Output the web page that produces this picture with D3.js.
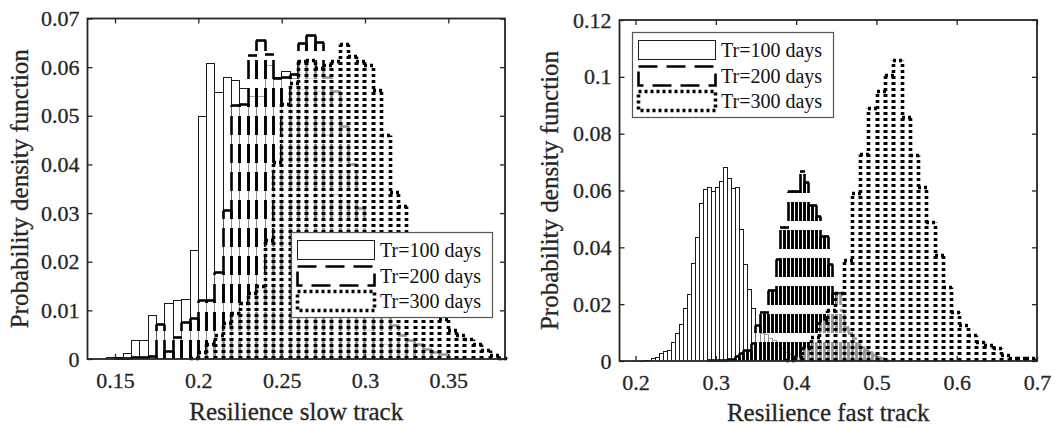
<!DOCTYPE html>
<html><head><meta charset="utf-8">
<script src="https://cdn.jsdelivr.net/npm/d3@7"></script>
<style>
body{margin:0;background:#fff}
svg{display:block}
</style>
</head><body>
<svg id="c" width="1059" height="428"></svg>
<script>
// ---------------- data ----------------
const legendLabels = ["Tr=100 days", "Tr=200 days", "Tr=300 days"];

// Left panel: resilience slow track (bin width 0.005)
const slowBinWidth = 0.005;
const slow100Start = 0.145;
const slow100 = [0.0005,0.0005,0.0013,0.0039,0.0039,0.0090,0.0071,0.0116,0.0121,0.0123,0.0225,0.0500,0.0609,0.0548,0.0580,0.0573,0.0558,0.0541,0.0541,0.0604,0.0580,0.0592,0.0577,0.0555,0.0577,0.0550,0.0460,0.0340,0.0220,0.0140,0.0090,0.0060,0.0040,0.0030,0.0020,0.0010];
const slow200Start = 0.15;
const slow200 = [0.0003,0.0003,0.0004,0.0005,0.0007,0.0071,0.0016,0.0045,0.0077,0.0085,0.0122,0.0122,0.0178,0.0307,0.0523,0.0525,0.0625,0.0655,0.0626,0.0578,0.0580,0.0586,0.0650,0.0666,0.0652,0.0580,0.0550,0.0480,0.0400,0.0310,0.0220,0.0150,0.0100,0.0070,0.0050,0.0040,0.0030,0.0020,0.0015,0.0010];
const slow300Start = 0.195;
const slow300 = [0.0003,0.0015,0.0030,0.0050,0.0075,0.0095,0.0115,0.0135,0.0150,0.0245,0.0405,0.0525,0.0568,0.0612,0.0615,0.0598,0.0605,0.0612,0.0648,0.0622,0.0612,0.0605,0.0553,0.0460,0.0344,0.0315,0.0240,0.0180,0.0130,0.0095,0.0082,0.0060,0.0050,0.0042,0.0030,0.0018,0.0008,0.0003];

// Right panel: resilience fast track
const fastBinWidth = 0.005;
const fast100Start = 0.205;
const fast100 = [0.0001,0.0002,0.0003,0.0009,0.0013,0.0029,0.0035,0.0039,0.0068,0.0100,0.0130,0.0185,0.0235,0.0345,0.0435,0.0555,0.0605,0.0612,0.0598,0.0612,0.0632,0.0682,0.0645,0.0610,0.0612,0.0465,0.0340,0.0255,0.0185,0.0125,0.0098,0.0095,0.0082,0.0075,0.0058,0.0045,0.0032,0.0025,0.0018,0.0012,0.0008,0.0005,0.0003];
const fast200Start = 0.29;
const fast200 = [0.0002,0.0002,0.0003,0.0003,0.0004,0.0006,0.0008,0.0018,0.0027,0.0039,0.0040,0.0062,0.0125,0.0174,0.0174,0.0250,0.0250,0.0360,0.0470,0.0470,0.0600,0.0600,0.0600,0.0670,0.0630,0.0550,0.0550,0.0510,0.0440,0.0440,0.0340,0.0240,0.0240,0.0180,0.0120,0.0100,0.0080,0.0060,0.0050,0.0040,0.0030,0.0020,0.0015,0.0010,0.0005];
const fast300Start = 0.3877;
const fast300BinWidth = 0.0103;
const fast300 = [0.0005,0.0015,0.0045,0.0086,0.0144,0.0180,0.0240,0.0355,0.0590,0.0730,0.0890,0.0950,0.1006,0.1060,0.0860,0.0725,0.0613,0.0490,0.0373,0.0262,0.0173,0.0127,0.0091,0.0068,0.0056,0.0044,0.0020,0.0010,0.0010,0.0012];

// ticks
const slowXTicks = [0.15, 0.2, 0.25, 0.3, 0.35];
const slowYTicks = [0, 0.01, 0.02, 0.03, 0.04, 0.05, 0.06, 0.07];
const fastXTicks = [0.2, 0.3, 0.4, 0.5, 0.6, 0.7];
const fastYTicks = [0, 0.02, 0.04, 0.06, 0.08, 0.1, 0.12];

// ---------------- drawing ----------------
const FONT = "'Liberation Serif','Times New Roman',Times,serif";
const AX = "#262626";
const svg = d3.select("#c");

const styles = [
  {dash: null, w: 1, c: "#1a1a1a"},
  {dash: "19,9", w: 2.6, c: "#000"},
  {dash: "3,3", w: 3.6, c: "#000"}
];
const snap = v => Math.round(v - 0.5) + 0.5;

const panels = [
  {px: [87.5, 505], py: [359, 18.5], xd: [0.1335, 0.384], yd: [0, 0.07],
   xt: slowXTicks, yt: slowYTicks, xlabel: "Resilience slow track", xlBase: 420, ylX: 28,
   series: [
     {start: slow100Start, bw: slowBinWidth, v: slow100},
     {start: slow200Start, bw: slowBinWidth, v: slow200},
     {start: slow300Start, bw: slowBinWidth, v: slow300}],
   legend: [291, 232]},
  {px: [619.5, 1037], py: [361, 20], xd: [0.18, 0.7], yd: [0, 0.12],
   xt: fastXTicks, yt: fastYTicks, xlabel: "Resilience fast track", xlBase: 421, ylX: 558,
   series: [
     {start: fast100Start, bw: fastBinWidth, v: fast100},
     {start: fast200Start, bw: fastBinWidth, v: fast200},
     {start: fast300Start, bw: fast300BinWidth, v: fast300}],
   legend: [632, 32]}
];

panels.forEach(p => {
  const x = d3.scaleLinear().domain(p.xd).range(p.px);
  const y = d3.scaleLinear().domain(p.yd).range(p.py);
  const g = svg.append("g");
  const yb = Math.round(y(0));

  // histograms
  p.series.forEach((s, si) => {
    const st = styles[si];
    const bars = s.v.map((v, i) => ({
      xa: snap(x(s.start + i * s.bw)), xb: snap(x(s.start + (i + 1) * s.bw)),
      yt: Math.round(y(v)) + 0.5, yb: yb
    }));
    const sg = g.append("g");
    sg.selectAll("rect").data(bars).join("rect")
      .attr("x", d => d.xa).attr("y", d => d.yt)
      .attr("width", d => d.xb - d.xa).attr("height", d => d.yb - d.yt)
      .attr("fill", "#fff").attr("fill-opacity", 0.6).attr("stroke", "none");
    const segs = [];
    bars.forEach(d => {
      segs.push([d.xa, d.yb, d.xa, d.yt]);
      segs.push([d.xb, d.yb, d.xb, d.yt]);
      segs.push([d.xa - 0.5, d.yt, d.xb + 0.5, d.yt]);
    });
    sg.selectAll("line").data(segs).join("line")
      .attr("x1", d => d[0]).attr("y1", d => d[1]).attr("x2", d => d[2]).attr("y2", d => d[3])
      .attr("stroke", st.c).attr("stroke-width", st.w)
      .attr("stroke-dasharray", st.dash)
      .attr("stroke-linecap", "butt");
  });

  // axes (ticks inside, all four sides)
  const fmt = d => String(d);
  const styleAxis = a => {
    a.select(".domain").remove();
    a.selectAll("line").attr("stroke", AX).attr("stroke-width", 1.3);
    a.selectAll("text").attr("fill", AX).attr("stroke", AX).attr("stroke-width", 0.3)
      .attr("font-size", 22).attr("font-family", FONT);
    a.attr("font-size", 22).attr("font-family", FONT);
  };
  g.append("g").attr("transform", `translate(0,${p.py[0]})`)
    .call(d3.axisBottom(x).tickValues(p.xt).tickSize(-5).tickPadding(13.4).tickFormat(fmt)).call(styleAxis);
  g.append("g").attr("transform", `translate(0,${p.py[1]})`)
    .call(d3.axisTop(x).tickValues(p.xt).tickSize(-5).tickFormat("")).call(styleAxis);
  g.append("g").attr("transform", `translate(${p.px[0]},0)`)
    .call(d3.axisLeft(y).tickValues(p.yt).tickSize(-5).tickPadding(8).tickFormat(fmt)).call(styleAxis);
  g.append("g").attr("transform", `translate(${p.px[1]},0)`)
    .call(d3.axisRight(y).tickValues(p.yt).tickSize(-5).tickFormat("")).call(styleAxis);

  g.append("rect")
    .attr("x", p.px[0]).attr("y", p.py[1])
    .attr("width", p.px[1] - p.px[0]).attr("height", p.py[0] - p.py[1])
    .attr("fill", "none").attr("stroke", AX).attr("stroke-width", 1.8);

  // axis labels
  g.append("text").attr("x", (p.px[0] + p.px[1]) / 2).attr("y", p.xlBase)
    .attr("text-anchor", "middle").attr("font-family", FONT).attr("font-size", 25)
    .attr("fill", AX).attr("stroke", AX).attr("stroke-width", 0.3).text(p.xlabel);
  g.append("text")
    .attr("transform", `translate(${p.ylX},${(p.py[0] + p.py[1]) / 2}) rotate(-90)`)
    .attr("text-anchor", "middle").attr("font-family", FONT).attr("font-size", 25)
    .attr("fill", AX).attr("stroke", AX).attr("stroke-width", 0.3).text("Probability density function");

  // legend
  const lg = g.append("g").attr("transform", `translate(${p.legend[0]},${p.legend[1]})`);
  lg.append("rect").attr("x", 0.5).attr("y", 0.5).attr("width", 201).attr("height", 85)
    .attr("fill", "#fff").attr("stroke", "#555").attr("stroke-width", 1.2);
  legendLabels.forEach((lab, i) => {
    const st = styles[i];
    const ry = 8.5 + Math.round(i * 25.5);
    lg.append("rect").attr("x", 6.5).attr("y", ry).attr("width", 77).attr("height", 19)
      .attr("fill", "#fff").attr("stroke", st.c).attr("stroke-width", st.w)
      .attr("stroke-dasharray", st.dash);
    lg.append("text").attr("x", 89).attr("y", ry + 16)
      .attr("font-family", FONT).attr("font-size", 20).attr("fill", "#111").text(lab);
  });
});
</script>
</body></html>
